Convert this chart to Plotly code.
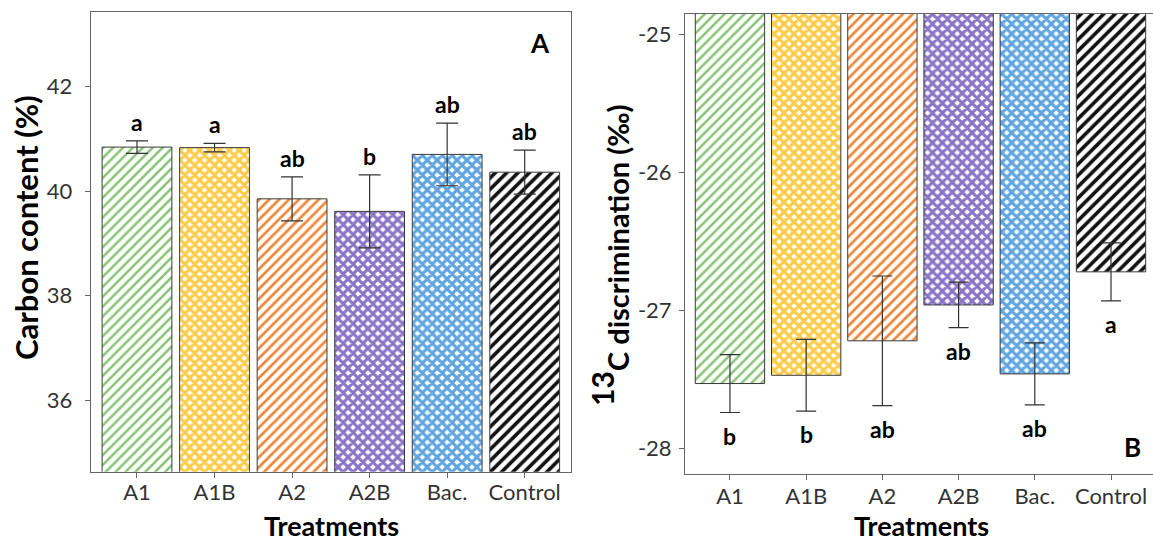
import plotly.graph_objects as go

# ---- data -------------------------------------------------------------
treatments = ["A1", "A1B", "A2", "A2B", "Bac.", "Control"]

carbon_mean = [40.84, 40.83, 39.85, 39.61, 40.70, 40.36]
carbon_se = [0.12, 0.08, 0.42, 0.70, 0.60, 0.42]
carbon_letters = ["a", "a", "ab", "b", "ab", "ab"]

disc_mean = [-27.53, -27.47, -27.22, -26.96, -27.46, -26.72]
disc_se = [0.21, 0.26, 0.47, 0.165, 0.225, 0.21]
disc_letters = ["b", "b", "ab", "ab", "ab", "a"]

carbon_ticks = [36, 38, 40, 42]
disc_ticks = [-28, -27, -26, -25]

# ---- styling ----------------------------------------------------------
fill_colors = ["#86c474", "#fccb48", "#ec873a", "#8b74c6", "#5fa5df", "#111111"]
fill_shapes = ["/", "x", "/", "x", "x", "/"]
fill_sizes = [7, 7, 7, 7, 7, 8]
fill_solidity = [0.36, 0.68, 0.38, 0.68, 0.68, 0.45]

FONT = "Lato, Calibri, sans-serif"
W, H = 1153, 543
AXIS_GREY = "#666666"
TEXT_GREY = "#333333"

# pixel frames of the two panels
A_L, A_R, A_T, A_B = 90.7, 571.0, 11.7, 471.7
B_L, B_R, B_T, B_B = 685.0, 1153.0, 14.0, 474.0

# ranges of the value axes
A_YR = [34.63, 43.43]
B_YR = [-28.186, -24.85]
B_CEIL = -24.0  # panel B bars hang from above the visible top


def px(x):
    return x / W


def py(y):
    return 1 - y / H


fig = go.Figure()

pattern = dict(shape=fill_shapes, fgcolor=fill_colors, bgcolor="white",
               size=fill_sizes, solidity=fill_solidity, fillmode="replace")

# Panel A: carbon content
fig.add_trace(go.Bar(
    x=treatments, y=carbon_mean, width=0.9,
    marker=dict(color="white", pattern=pattern,
                line=dict(color="#3a3a3a", width=1)),
    xaxis="x", yaxis="y", hoverinfo="skip", showlegend=False))
fig.add_trace(go.Scatter(
    x=treatments, y=carbon_mean, mode="markers",
    marker=dict(opacity=0, size=1),
    error_y=dict(type="data", array=carbon_se, color="#333333",
                 thickness=1.2, width=11),
    xaxis="x", yaxis="y", hoverinfo="skip", showlegend=False))

# Panel B: 13C discrimination, bars drawn downward from the top
fig.add_trace(go.Bar(
    x=treatments, base=disc_mean, y=[B_CEIL - v for v in disc_mean],
    width=0.91,
    marker=dict(color="white", pattern=pattern,
                line=dict(color="#3a3a3a", width=1)),
    xaxis="x2", yaxis="y2", hoverinfo="skip", showlegend=False))
fig.add_trace(go.Scatter(
    x=treatments, y=disc_mean, mode="markers",
    marker=dict(opacity=0, size=1),
    error_y=dict(type="data", array=disc_se, color="#333333",
                 thickness=1.2, width=10),
    xaxis="x2", yaxis="y2", hoverinfo="skip", showlegend=False))

annotations = []
letter_font = dict(family=FONT, size=23, color="black", weight="bold")
for t, m, s, lab in zip(treatments, carbon_mean, carbon_se, carbon_letters):
    annotations.append(dict(x=t, y=m + s, xref="x", yref="y", text=lab,
                            showarrow=False, xanchor="center",
                            yanchor="middle", yshift=19, font=letter_font))
for t, m, s, lab in zip(treatments, disc_mean, disc_se, disc_letters):
    annotations.append(dict(x=t, y=m - s, xref="x2", yref="y2", text=lab,
                            showarrow=False, xanchor="center",
                            yanchor="middle", yshift=-23, font=letter_font))


def paper_text(x, y, text, size, angle=0):
    return dict(x=px(x), y=py(y), xref="paper", yref="paper", text=text,
                textangle=angle, showarrow=False, xanchor="center",
                yanchor="middle",
                font=dict(family=FONT, size=size, color="black",
                          weight="bold"))


# panel letters
annotations.append(paper_text(540, 43, "A", 26))
annotations.append(paper_text(1132, 447, "B", 26))
# axis titles
annotations.append(paper_text(331, 525, "Treatments", 27))
annotations.append(paper_text(921, 525, "Treatments", 27))
annotations.append(paper_text(26, 228, "Carbon content (%)", 31, -90))
annotations.append(paper_text(602, 389, "13", 30, -90))
annotations.append(paper_text(617, 238, "C discrimination (‰)", 29, -90))

tick_font = dict(family=FONT, size=22, color=TEXT_GREY)

common = dict(showline=True, linecolor=AXIS_GREY, linewidth=1,
              ticks="outside", ticklen=5, tickcolor=AXIS_GREY,
              tickfont=tick_font, showgrid=False, zeroline=False)

fig.update_layout(
    width=W, height=H,
    margin=dict(l=0, r=0, t=0, b=0),
    paper_bgcolor="white", plot_bgcolor="white",
    annotations=annotations,
    xaxis=dict(domain=[px(A_L), px(A_R)], anchor="y", type="category",
               range=[-0.597, 5.597], mirror=True, ticklabelstandoff=-4,
               **common),
    yaxis=dict(domain=[py(A_B), py(A_T)], anchor="x", range=A_YR,
               tickvals=carbon_ticks, mirror=True, ticklabelstandoff=8,
               **common),
    xaxis2=dict(domain=[px(B_L), px(B_R)], anchor="y2", type="category",
                range=[-0.59, 5.551], mirror=True, ticklabelstandoff=-2,
                **common),
    yaxis2=dict(domain=[py(B_B), py(B_T)], anchor="x2", range=B_YR,
                tickvals=disc_ticks, ticktext=[str(v) for v in disc_ticks],
                mirror=False, ticklabelstandoff=3, **common),
)

fig.write_html("out.html")
